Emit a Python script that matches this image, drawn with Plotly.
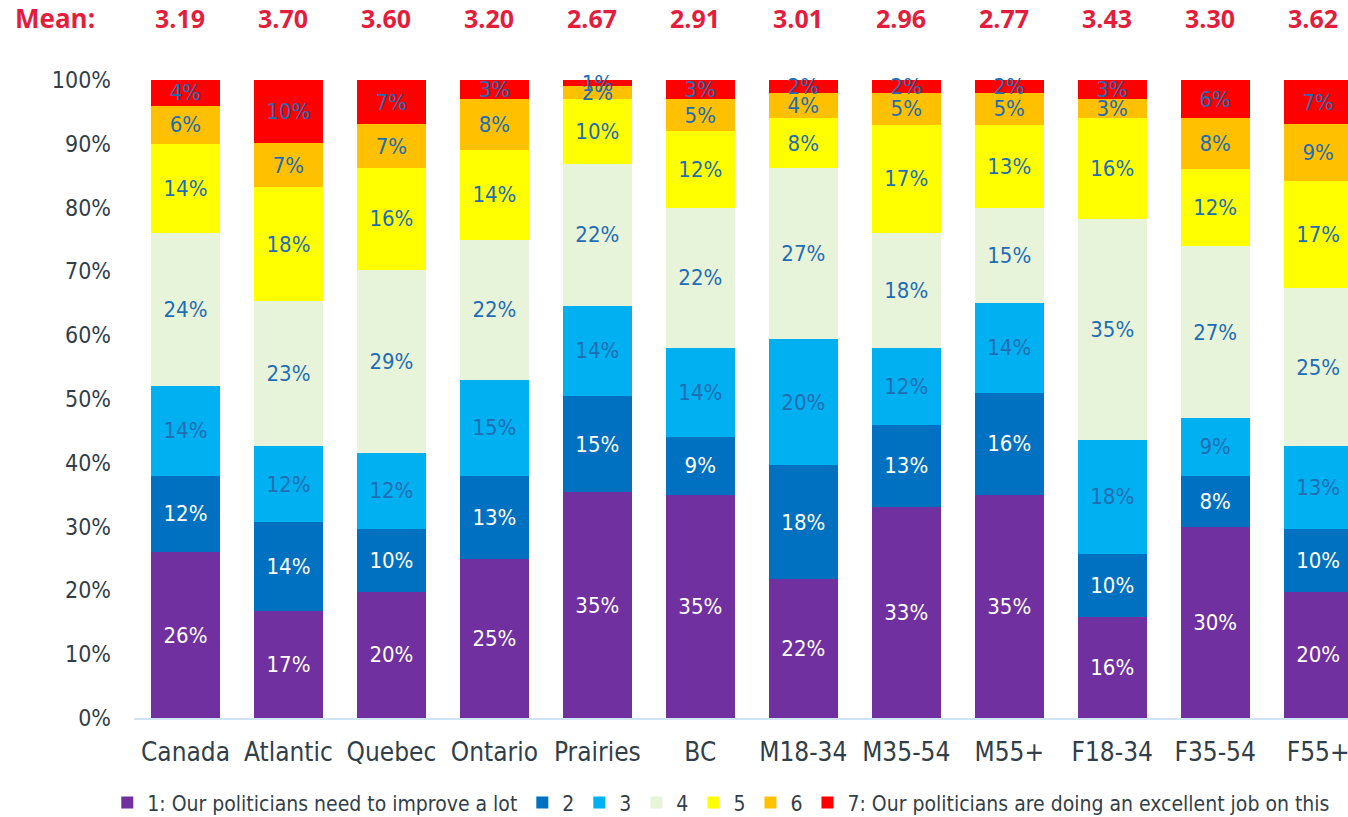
import plotly.graph_objects as go

categories = ["Canada", "Atlantic", "Quebec", "Ontario", "Prairies", "BC",
              "M18-34", "M35-54", "M55+", "F18-34", "F35-54", "F55+"]
means = ["3.19", "3.70", "3.60", "3.20", "2.67", "2.91", "3.01", "2.96", "2.77", "3.43", "3.30", "3.62"]

series_names = ["1: Our politicians need to improve a lot", "2", "3", "4", "5", "6",
                "7: Our politicians are doing an excellent job on this"]
s1 = [26, 17, 20, 25, 35, 35, 22, 33, 35, 16, 30, 20]
s2 = [12, 14, 10, 13, 15, 9, 18, 13, 16, 10, 8, 10]
s3 = [14, 12, 12, 15, 14, 14, 20, 12, 14, 18, 9, 13]
s4 = [24, 23, 29, 22, 22, 22, 27, 18, 15, 35, 27, 25]
s5 = [14, 18, 16, 14, 10, 12, 8, 17, 13, 16, 12, 17]
s6 = [6, 7, 7, 8, 2, 5, 4, 5, 5, 3, 8, 9]
s7 = [4, 10, 7, 3, 1, 3, 2, 2, 2, 3, 6, 7]
series_values = [s1, s2, s3, s4, s5, s6, s7]

y_tick_values = [0, 10, 20, 30, 40, 50, 60, 70, 80, 90, 100]
y_tick_labels = [f"{v}%" for v in y_tick_values]

colors = ["#7030A0", "#0070C0", "#00B0F0", "#E8F4DA", "#FFFF00", "#FFC000", "#FF0000"]
text_colors = ["#FFFFFF", "#FFFFFF", "#1F6DB5", "#1F6DB5", "#1F6DB5", "#1F6DB5", "#1F6DB5"]

FONT = "DejaVu Sans Condensed, Liberation Sans Narrow, DejaVu Sans, sans-serif"
BOLD = "Open Sans, Lato, sans-serif"
RED = "#E31E3C"
GREY = "#333F48"

fig = go.Figure()
for name, vals, col, tcol in zip(series_names, series_values, colors, text_colors):
    fig.add_trace(go.Bar(
        x=categories, y=vals, name=name,
        marker=dict(color=col, line=dict(width=0)),
        text=[f"{v}%" for v in vals],
        textposition="inside", insidetextanchor="middle",
        textfont=dict(color=tcol, size=22, family=FONT),
        cliponaxis=False,
        hovertemplate="%{x}: %{text}<extra>" + name + "</extra>",
    ))

annotations = [dict(text="<b>Mean:</b>", x=-0.0997, xref="paper", xanchor="left",
                    y=1.097, yref="paper", yanchor="middle", showarrow=False,
                    font=dict(color=RED, size=26, family=BOLD))]
for c, m in zip(categories, means):
    annotations.append(dict(text=f"<b>{m}</b>", x=c, xref="x", y=1.097, yref="paper",
                            yanchor="middle", showarrow=False, xshift=-5,
                            font=dict(color=RED, size=25, family=BOLD)))

fig.update_layout(
    width=1348, height=817,
    barmode="stack", barnorm="percent", bargap=0.33,
    margin=dict(l=134, r=0, t=80, b=99, autoexpand=False),
    plot_bgcolor="white", paper_bgcolor="white",
    uniformtext=dict(minsize=21, mode="show"),
    font=dict(family=FONT, color=GREY),
    annotations=annotations,
    legend=dict(orientation="h", x=-0.022, xanchor="left", y=-0.133, yanchor="middle",
                font=dict(size=21, family=FONT, color=GREY),
                itemwidth=30, traceorder="normal", tracegroupgap=0),
    xaxis=dict(range=[-0.5, 11.29], showgrid=False, showline=True, linecolor="#CFE3F5",
               linewidth=2, ticks="", tickfont=dict(size=26, color=GREY),
               ticklabelstandoff=10, automargin=False, fixedrange=True),
    yaxis=dict(range=[0, 100], showgrid=False, zeroline=False, showline=False,
               tickmode="array", tickvals=y_tick_values, ticktext=y_tick_labels,
               tickfont=dict(size=23, color=GREY), ticklabelstandoff=22, automargin=False,
               fixedrange=True),
)

fig.write_html("out.html", config={"displayModeBar": False},
               post_script="document.body.style.margin='0';")
